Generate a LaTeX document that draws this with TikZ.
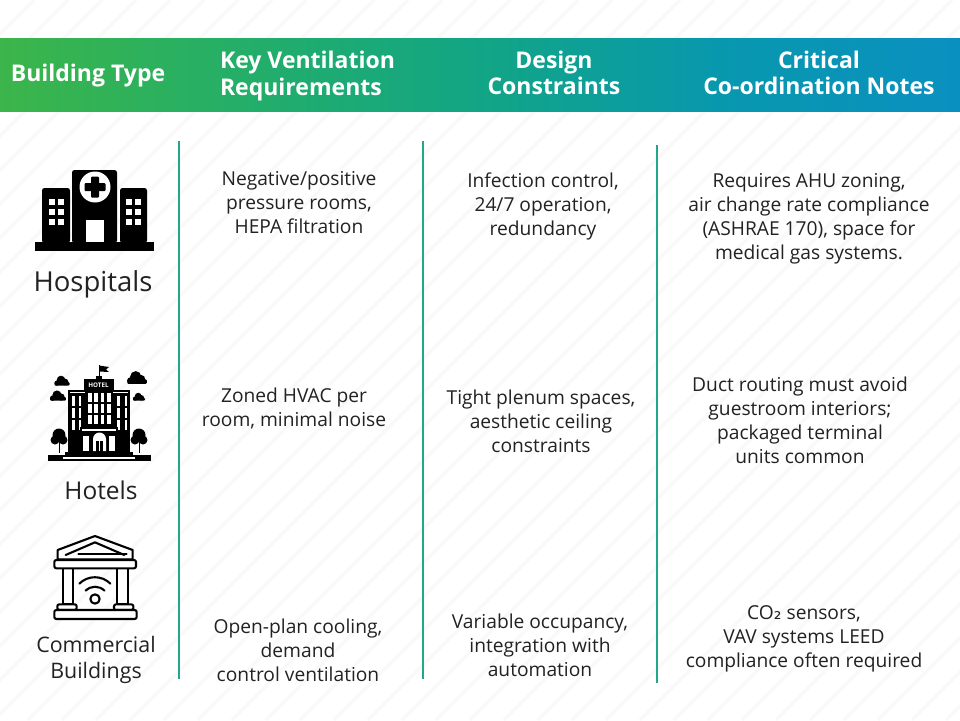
\documentclass[tikz,border=0pt]{standalone}
\usepackage{fontspec}
\setmainfont{Open Sans}
\newfontfamily\subfont{DejaVu Sans}
\definecolor{divider}{HTML}{1FA88C}
\definecolor{ink}{HTML}{222222}
\definecolor{stripe}{HTML}{FAF9F8}
\definecolor{gradA}{HTML}{3CB54A}
\definecolor{gradB}{HTML}{24AE68}
\definecolor{gradC}{HTML}{12A585}
\definecolor{gradD}{HTML}{0898AE}
\definecolor{gradE}{HTML}{0A90C0}
\pgfdeclarehorizontalshading{headgrad}{100bp}{
 color(0bp)=(gradA);
 color(25bp)=(gradA);
 color(37.5bp)=(gradB);
 color(50bp)=(gradC);
 color(62.5bp)=(gradD);
 color(75bp)=(gradE);
 color(100bp)=(gradE)}
\tikzset{
 x=1pt,y=-1pt,
 body/.style={font=\fontsize{19.2}{24}\selectfont,text=ink,align=center,inner sep=0pt},
 label/.style={text=ink,align=center,inner sep=0pt},
 head/.style={font=\fontsize{23}{26.5}\selectfont\bfseries,text=white,align=center,inner sep=0pt},
 divline/.style={draw=divider,line width=2.6pt},
 bankline/.style={draw=black,line width=2.1pt,line join=round,line cap=round,fill=white},
 bankstroke/.style={draw=black,line width=2.1pt,line cap=round,line join=round},
}
\begin{document}
\begin{tikzpicture}
\useasboundingbox (0,0) rectangle (960,720);
\fill[white] (0,0) rectangle (960,720);
% faint diagonal stripes
\begin{scope}
\clip (0,0) rectangle (960,720);
\foreach \k in {-720,-686,...,960}
  \draw[stripe,line width=3pt] (\k,720) -- (\k+720,0);
\end{scope}
% header band
\shade[shading=headgrad] (0,38) rectangle (960,111);
\node[head] (h1) at (88,76) {Building Type};
\node[head,align=left] (h2) at (307.5,76) {Key Ventilation\\Requirements};
\node[head] (h3) at (554,73) {Design\\Constraints};
\node[head] (h4) at (819,73) {Critical\\Co-ordination Notes};
% dividers
\draw[divline] (179,141) -- (179,679);
\draw[divline] (423,141) -- (423,679);
\draw[divline] (657,145) -- (657,683);
% hospital icon
\begin{scope}
\fill (35,242) rectangle (154,251);
\fill[rounded corners=2.5pt] (42,243) -- (42,188) -- (70,188) -- (70,243) -- cycle;
\fill[rounded corners=2.5pt] (72,243) -- (72,170) -- (117,170) -- (117,243) -- cycle;
\fill[rounded corners=2.5pt] (120,243) -- (120,188) -- (147,188) -- (147,243) -- cycle;
\fill[white] (95,187) circle (15.5);
\fill[rounded corners=1pt] (91,176.5) rectangle (99,197.5);
\fill[rounded corners=1pt] (84.5,183) rectangle (105.5,191);
\fill[white] (86,220) rectangle (104,242);
\foreach \yy in {199,209,219}{
  \fill[white] (49,\yy) rectangle +(6,5.5);
  \fill[white] (58,\yy) rectangle +(6,5.5);
  \fill[white] (126,\yy) rectangle +(6,5.5);
  \fill[white] (135,\yy) rectangle +(6,5.5);
}
\end{scope}
\node[label,font=\fontsize{27.5}{30}\selectfont] (hospitals) at (93,284) {Hospitals};
% hotel icon
\begin{scope}
% flag
\draw[line width=0.9pt] (99,365) -- (99,376);
\fill (99,365.5) -- (109,367) -- (106,369.5) -- (109,372) -- (99,371.5) -- cycle;
% clouds
\foreach \cx/\cy/\s in {62/381/1,137/378/1.3,58/396/1.05,139/397/.8}{
  \fill (\cx-1*\s,\cy-1*\s) circle (4.3*\s);
  \fill (\cx+3*\s,\cy+1*\s) circle (3.4*\s);
  \fill (\cx-5*\s,\cy+2*\s) circle (2.6*\s);
  \fill[rounded corners=1pt] (\cx-7.5*\s,\cy+1*\s) rectangle (\cx+7.5*\s,\cy+4.5*\s);
}
% building
\fill (96,376) rectangle (102,379);
\fill (84,379) rectangle (114,430);
\fill (68,390) rectangle (130,452);
\fill[white] (70,392) rectangle (85,393);
\fill[white] (113,392) rectangle (128,393);
\node[font=\fontsize{6.3}{6}\selectfont\bfseries,text=white,inner sep=0pt] (hotelsign) at (98.5,385.5) {HOTEL};
\foreach \xx in {88,94,100.5,107}
  \foreach \yy in {393,404,415}
    \fill[white] (\xx,\yy) rectangle +(3.5,8.5);
\foreach \xx in {72,78.5,117,124.5}
  \foreach \yy in {396,408,420}
    \fill[white] (\xx,\yy) rectangle +(2.5,10);
% entrance
\fill (80,427) rectangle (118,452);
\fill[white] (82,429) rectangle (116,430.5);
\fill[white] (83,436) rectangle (89,451);
\fill[white] (109,436) rectangle (115,451);
\fill[white] (93,451) -- (93,439) arc (180:360:6.5) -- (106,451) -- cycle;
\fill (96,441) rectangle (103,452);
\fill[white] (99.2,441) rectangle (99.8,451);
% trees
\foreach \tx in {59,139}{
  \fill (\tx,435) circle (6.5);
  \fill (\tx-4,440) circle (4.5);
  \fill (\tx+4,440) circle (4.5);
  \draw[line width=1pt] (\tx,440) -- (\tx,453);
}
% ground
\fill (65,452) rectangle (133,455);
\fill (48,455) rectangle (151,461);
\fill[white] (63,457) rectangle (135,458.5);
\end{scope}
\node[label,font=\fontsize{24.5}{28}\selectfont] (hotels) at (101,490) {Hotels};
% bank icon
\begin{scope}[shift={(20,525)},x=.3333pt,y=-.3333pt]
\draw[bankline] (113,103) -- (113,75) -- (225,33) -- (338,75) -- (338,103) -- cycle;
\draw[bankstroke] (137,90) -- (225,52) -- (313,90);
\draw[bankstroke] (175,88) -- (320,88);
\draw[bankline] (128,130) rectangle (160,238);
\draw[bankline] (292,130) rectangle (324,238);
\draw[bankline,rounded corners=2pt] (103,105) rectangle (348,130);
\draw[bankline,rounded corners=2pt] (112,238) rectangle (170,255);
\draw[bankline,rounded corners=2pt] (282,238) rectangle (340,255);
\draw[bankline,rounded corners=2pt] (103,255) rectangle (350,282);
\draw[bankstroke] (225,222) circle (14);
\draw[bankstroke] (197,197) arc (225:315:40);
\draw[bankstroke] (178,176) arc (225:315:66);
\end{scope}
\node[label,font=\fontsize{21.4}{26}\selectfont] (commercial) at (96,660) {Commercial\\Buildings};
% row 1
\node[body] (r1a) at (299,203) {Negative/positive\\pressure rooms,\\HEPA filtration};
\node[body] (r1b) at (543,206) {Infection control,\\24/7 operation,\\redundancy};
\node[body] (r1c) at (809,219) {Requires AHU zoning,\\air change rate compliance\\(ASHRAE 170), space for\\medical gas systems.};
% row 2
\node[body] (r2a) at (294,408) {Zoned HVAC per\\room, minimal noise};
\node[body] (r2b) at (541,421) {Tight plenum spaces,\\aesthetic ceiling\\constraints};
\node[body] (r2c) at (800,420) {Duct routing must avoid\\guestroom interiors;\\packaged terminal\\units common};
% row 3
\node[body] (r3a) at (298,650) {Open-plan cooling,\\demand\\control ventilation};
\node[body] (r3b) at (540,645) {Variable occupancy,\\integration with\\automation};
\node[body] (r3c) at (804,639) {CO{\subfont ₂} sensors,\\VAV systems LEED\\compliance often required};
\end{tikzpicture}
\end{document}
